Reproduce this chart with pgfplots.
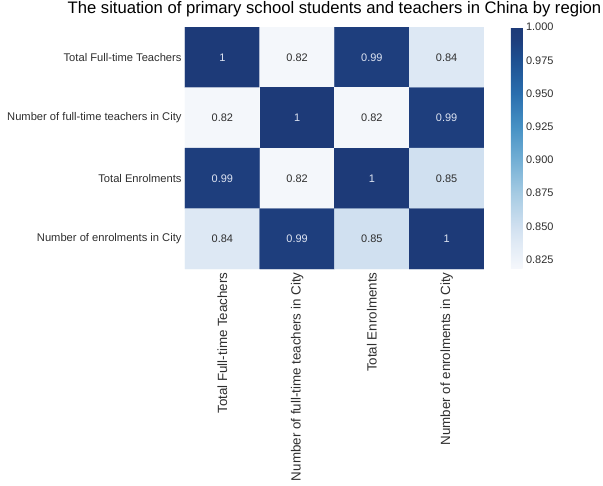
\documentclass[border=0pt]{standalone}
\usepackage{pgfplots}
\pgfplotsset{compat=1.18}
\usepackage{pgfplotstable}
\usepackage{fontspec}
\setmainfont{Liberation Sans}

\definecolor{labelgray}{HTML}{2E2E2E}
\definecolor{labellight}{RGB}{222,228,242}

% Sequential blue colour scale (positions span 0.818 ... 1.000)
\pgfplotsset{
  colormap={blues}{
    rgb255(0pt)=(246,248,252)
    rgb255(121pt)=(221,232,244)
    rgb255(176pt)=(208,224,240)
    rgb255(313pt)=(165,203,227)
    rgb255(450pt)=(115,175,213)
    rgb255(588pt)=(70,145,196)
    rgb255(725pt)=(42,110,174)
    rgb255(863pt)=(30,80,145)
    rgb255(945pt)=(30,62,125)
    rgb255(1000pt)=(29,58,120)
  }
}

% Correlation matrix: column index x, row index y, coefficient c
\pgfplotstableread{
x y c
0 0 1.00
1 0 0.82
2 0 0.99
3 0 0.84
0 1 0.82
1 1 1.00
2 1 0.82
3 1 0.99
0 2 0.99
1 2 0.82
2 2 1.00
3 2 0.85
0 3 0.84
1 3 0.99
2 3 0.85
3 3 1.00
}\corr

\pgfplotsset{
  cell label/.style={
    draw=none, point meta=\thisrow{c},
    nodes near coords={\pgfmathprintnumber[assume math mode=true]{\pgfplotspointmeta}},
    every node near coord/.append style={anchor=center, font=\fontsize{11}{13}\selectfont, text=#1},
  },
}

\begin{document}
\begin{tikzpicture}
\useasboundingbox (-185bp,-217bp) rectangle (418bp,269bp);
\begin{axis}[
  at={(0,0)}, anchor=south west,
  width=299bp, height=242bp, scale only axis,
  xmin=-0.5, xmax=3.5, ymin=-0.5, ymax=3.5,
  y dir=reverse,
  enlargelimits=false,
  axis line style={draw=none},
  tick style={draw=none},
  xtick={0,1,2,3}, ytick={0,1,2,3},
  xticklabels={Total Full-time Teachers, Number of full-time teachers in City, Total Enrolments, Number of enrolments in City},
  yticklabels={Total Full-time Teachers, Number of full-time teachers in City, Total Enrolments, Number of enrolments in City},
  xticklabel style={rotate=90, anchor=east, font=\fontsize{13.4}{16}\selectfont, text=labelgray},
  yticklabel style={font=\fontsize{11.2}{13}\selectfont, text=labelgray},
  title={The situation of primary school students and teachers in China by region},
  title style={at={(0.5,1)}, anchor=base, yshift=7.4bp, font=\fontsize{16.7}{20}\selectfont, text=black},
  colormap name=blues,
  point meta min=0.818, point meta max=1,
  colorbar,
  colorbar style={
    at={(parent axis.north east)}, anchor=north west, xshift=18.4bp,
    width=11.6bp,
    axis line style={draw=none},
    tick style={draw=none},
    ytick={0.825,0.85,0.875,0.9,0.925,0.95,0.975,1},
    yticklabel style={font=\fontsize{11}{13}\selectfont, text=labelgray},
    /pgf/number format/fixed,
    /pgf/number format/fixed zerofill,
    /pgf/number format/precision=3,
    /pgf/number format/assume math mode=true,
  },
]
% heat map cells
\addplot[matrix plot*, mesh/cols=4, point meta=explicit] table[meta=c] {\corr};
% cell annotations: light text on dark cells, grey text on light cells
\addplot[cell label=labellight, restrict expr to domain={\thisrow{c}}{0.9:1.1}] table[x=x, y=y] {\corr};
\addplot[cell label=labelgray, restrict expr to domain={\thisrow{c}}{0:0.9}] table[x=x, y=y] {\corr};
\end{axis}
\end{tikzpicture}
\end{document}
